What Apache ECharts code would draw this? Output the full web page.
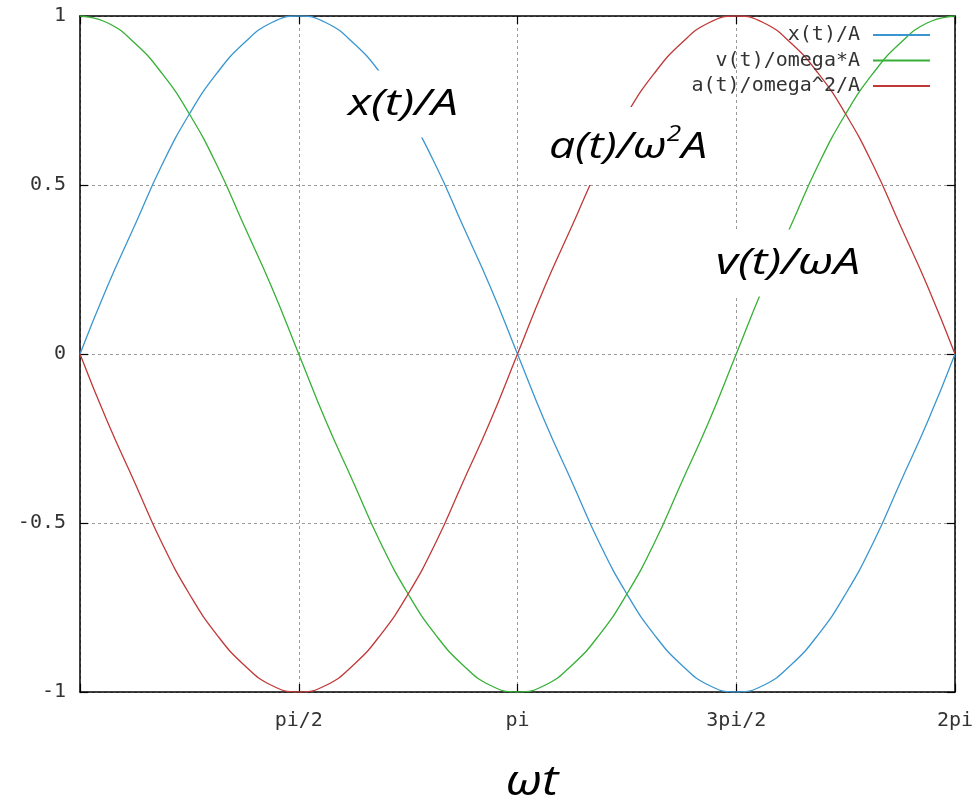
<!DOCTYPE html>
<html>
<head>
<meta charset="utf-8">
<script src="https://cdn.jsdelivr.net/npm/echarts@6/dist/echarts.min.js"></script>
<style>html,body{margin:0;padding:0;background:#fff}#c{width:972px;height:806px}</style>
</head>
<body>
<div id="c"></div>
<script>
// x positions in units of pi (omega*t / pi)
var tPi = [0,0.0625,0.125,0.1875,0.25,0.3125,0.375,0.4375,0.5,0.5625,0.625,0.6875,0.75,0.8125,0.875,0.9375,1,
           1.0625,1.125,1.1875,1.25,1.3125,1.375,1.4375,1.5,1.5625,1.625,1.6875,1.75,1.8125,1.875,1.9375,2];
var xOverA = [0,0.20,0.38,0.56,0.71,0.83,0.92,0.98,1,0.98,0.92,0.83,0.71,0.56,0.38,0.20,0,
              -0.20,-0.38,-0.56,-0.71,-0.83,-0.92,-0.98,-1,-0.98,-0.92,-0.83,-0.71,-0.56,-0.38,-0.20,0];
var vOverWA = [1,0.98,0.92,0.83,0.71,0.56,0.38,0.20,0,-0.20,-0.38,-0.56,-0.71,-0.83,-0.92,-0.98,-1,
               -0.98,-0.92,-0.83,-0.71,-0.56,-0.38,-0.20,0,0.20,0.38,0.56,0.71,0.83,0.92,0.98,1];
var aOverW2A = [0,-0.20,-0.38,-0.56,-0.71,-0.83,-0.92,-0.98,-1,-0.98,-0.92,-0.83,-0.71,-0.56,-0.38,-0.20,0,
                0.20,0.38,0.56,0.71,0.83,0.92,0.98,1,0.98,0.92,0.83,0.71,0.56,0.38,0.20,0];
var seriesNames = ['x(t)/A', 'v(t)/omega*A', 'a(t)/omega^2/A'];
var xTickLabels = {'0': '', '0.5': 'pi/2', '1': 'pi', '1.5': '3pi/2', '2': '2pi'};

function pairs(ys) { return tPi.map(function (t, i) { return [t, ys[i]]; }); }

var mono = 'DejaVu Sans Mono';
var axisLineStyle = { color: '#000', width: 1.5 };
var tickStyle = { show: true, inside: true, length: 8, lineStyle: { color: '#000', width: 1.2 } };
var gridLine = { show: true, lineStyle: { color: '#9a9a9a', type: [3, 3], width: 1 } };
var annFont = 'italic 37px "Open Sans"';

var chart = echarts.init(document.getElementById('c'), null, { renderer: 'canvas' });
chart.setOption({
  animation: false,
  backgroundColor: '#fff',
  grid: { left: 80, right: 17, top: 16, bottom: 114, containLabel: false, outerBoundsMode: 'none' },
  legend: {
    orient: 'vertical', right: 42, top: 25, padding: 0,
    align: 'right', itemWidth: 57, itemHeight: 2, itemGap: 5.5, icon: 'rect',
    textStyle: { fontFamily: mono, fontSize: 20, lineHeight: 20, color: '#333', padding: [0, 8, 0, 0] },
    data: seriesNames
  },
  xAxis: [{
    type: 'value', min: 0, max: 2, interval: 0.5, position: 'bottom',
    axisLine: { show: true, lineStyle: axisLineStyle, onZero: false },
    axisTick: tickStyle, splitLine: gridLine,
    axisLabel: { margin: 19, fontFamily: mono, fontSize: 20, color: '#333', showMaxLabel: true,
      formatter: function (v) { return xTickLabels[String(v)] || ''; } }
  }, {
    type: 'value', min: 0, max: 2, interval: 0.5, position: 'top',
    axisLine: { show: true, lineStyle: axisLineStyle, onZero: false },
    axisTick: tickStyle, splitLine: { show: false }, axisLabel: { show: false }
  }],
  yAxis: [{
    type: 'value', min: -1, max: 1, interval: 0.5, position: 'left',
    axisLine: { show: true, lineStyle: axisLineStyle, onZero: false },
    axisTick: tickStyle, splitLine: gridLine,
    axisLabel: { margin: 14, fontFamily: mono, fontSize: 20, color: '#333' }
  }, {
    type: 'value', min: -1, max: 1, interval: 0.5, position: 'right',
    axisLine: { show: true, lineStyle: axisLineStyle, onZero: false },
    axisTick: tickStyle, splitLine: { show: false }, axisLabel: { show: false }
  }],
  series: [
    { name: seriesNames[0], type: 'line', data: pairs(xOverA), smooth: true, showSymbol: false,
      color: '#3a96d0', lineStyle: { width: 1.3 } },
    { name: seriesNames[1], type: 'line', data: pairs(vOverWA), smooth: true, showSymbol: false,
      color: '#36b036', lineStyle: { width: 1.3 } },
    { name: seriesNames[2], type: 'line', data: pairs(aOverW2A), smooth: true, showSymbol: false,
      color: '#c03838', lineStyle: { width: 1.3 } }
  ],
  graphic: [
    { type: 'text', z: 100, x: 403, y: 104, scaleX: 1.3,
      style: { text: 'x(t)/A', font: annFont, fill: '#000', align: 'center', verticalAlign: 'middle',
               backgroundColor: '#fff', padding: [16, 12, 14, 12] } },
    { type: 'text', z: 100, x: 628, y: 146, scaleX: 1.25,
      style: { text: '{n|a(t)/ω}{s|2}{n|A}', align: 'center', verticalAlign: 'middle', fill: '#000',
               backgroundColor: '#fff', padding: [18, 10, 16, 10],
               rich: { n: { font: annFont, fill: '#000', lineHeight: 44 },
                       s: { font: 'italic 21px "Open Sans"', fill: '#000', verticalAlign: 'top', lineHeight: 14 } } } },
    { type: 'text', z: 100, x: 788, y: 263, scaleX: 1.3,
      style: { text: 'v(t)/ωA', font: annFont, fill: '#000', align: 'center', verticalAlign: 'middle',
               backgroundColor: '#fff', padding: [16, 12, 14, 12] } },
    { type: 'text', z: 100, x: 532, y: 783, scaleX: 1.18,
      style: { text: 'ωt', font: 'italic 42px "Open Sans"', fill: '#000', align: 'center', verticalAlign: 'middle' } }
  ]
});
</script>
</body>
</html>
